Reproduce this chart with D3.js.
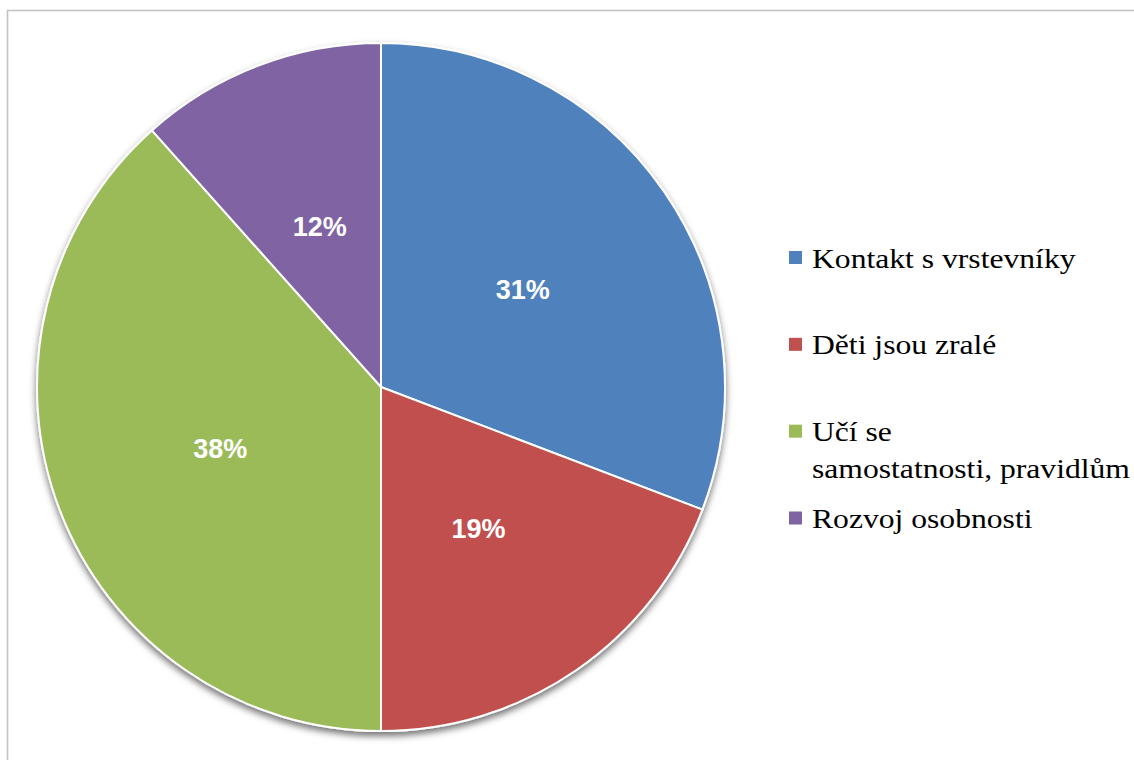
<!DOCTYPE html>
<html>
<head>
<meta charset="utf-8">
<script src="https://cdn.jsdelivr.net/npm/d3@7"></script>
<style>
  body { margin: 0; background: #fff; }
  svg { display: block; }
  .legtext { font-family: "Liberation Serif", "Times New Roman", Tinos, "DejaVu Serif", serif; }
  .lbl { font-family: "Liberation Sans", Arial, sans-serif; }
</style>
</head>
<body>
<div class="datavis"><svg></svg></div>
<script>
// data (shares)
const categories = ["Kontakt s vrstevníky", "Děti jsou zralé", "Učí se\nsamostatnosti, pravidlům", "Rozvoj osobnosti"]
const values = [30.8, 19.2, 38.4, 11.6]
const colors = ["#4F81BD", "#C0504D", "#9BBB59", "#8064A2"]

const width = 1134
const height = 760

const cx = 381, cy = 387, radius = 344

const svg = d3.select(".datavis > svg")
    .attr("width", width)
    .attr("height", height)
    .attr("viewBox", [0, 0, width, height])

// outer frame (cut off on right / bottom like the reference)
svg.append("rect")
    .attr("x", 7.5).attr("y", 10.5)
    .attr("width", 1300).attr("height", 900)
    .attr("fill", "none")
    .attr("stroke", "#c4c4c4")
    .attr("stroke-width", 1.6)

const defs = svg.append("defs")
const shadow = defs.append("filter").attr("id", "shadow")
    .attr("x", "-10%").attr("y", "-10%").attr("width", "120%").attr("height", "120%")
shadow.append("feDropShadow")
    .attr("dx", 0).attr("dy", 4)
    .attr("stdDeviation", 3.5)
    .attr("flood-color", "#000")
    .attr("flood-opacity", 0.55)

const data = categories.map((c, i) => ({ cat: c, val: values[i], color: colors[i] }))

const pie = d3.pie().value(d => d.val).sort(null)
const arc = d3.arc().innerRadius(0).outerRadius(radius)
const arcs = pie(data)

const g = svg.append("g").attr("transform", `translate(${cx},${cy})`)

g.append("g")
    .attr("filter", "url(#shadow)")
    .selectAll("path")
    .data(arcs)
    .join("path")
    .attr("d", arc)
    .attr("fill", d => d.data.color)
    .attr("stroke", "#fff")
    .attr("stroke-width", 2)

g.selectAll(".lbl")
    .data(arcs)
    .join("text")
    .attr("class", "lbl")
    .attr("transform", d => `translate(${arc.centroid(d)})`)
    .attr("text-anchor", "middle")
    .attr("dy", "0.36em")
    .attr("fill", "#fff")
    .attr("font-weight", "bold")
    .attr("font-size", 27)
    .text(d => Math.round(d.data.val) + "%")

// legend
const legY = d3.scalePoint().domain(categories).range([257.5, 518])

const leg = svg.append("g")
    .selectAll("g")
    .data(data)
    .join("g")
    .attr("transform", d => `translate(789,${legY(d.cat)})`)

leg.append("rect")
    .attr("x", 0).attr("y", -6.5)
    .attr("width", 13).attr("height", 13)
    .attr("fill", d => d.color)

// the legend text in the picture is wider than plain Times, so stretch it a bit
leg.append("text")
    .attr("class", "legtext")
    .attr("transform", "translate(23,0) scale(1.13,1)")
    .attr("y", 10)
    .attr("font-size", 28)
    .attr("fill", "#000")
    .selectAll("tspan")
    .data(d => d.cat.split("\n"))
    .join("tspan")
    .attr("x", 0)
    .attr("dy", (d, i) => i === 0 ? 0 : 37)
    .text(d => d)
</script>
</body>
</html>
